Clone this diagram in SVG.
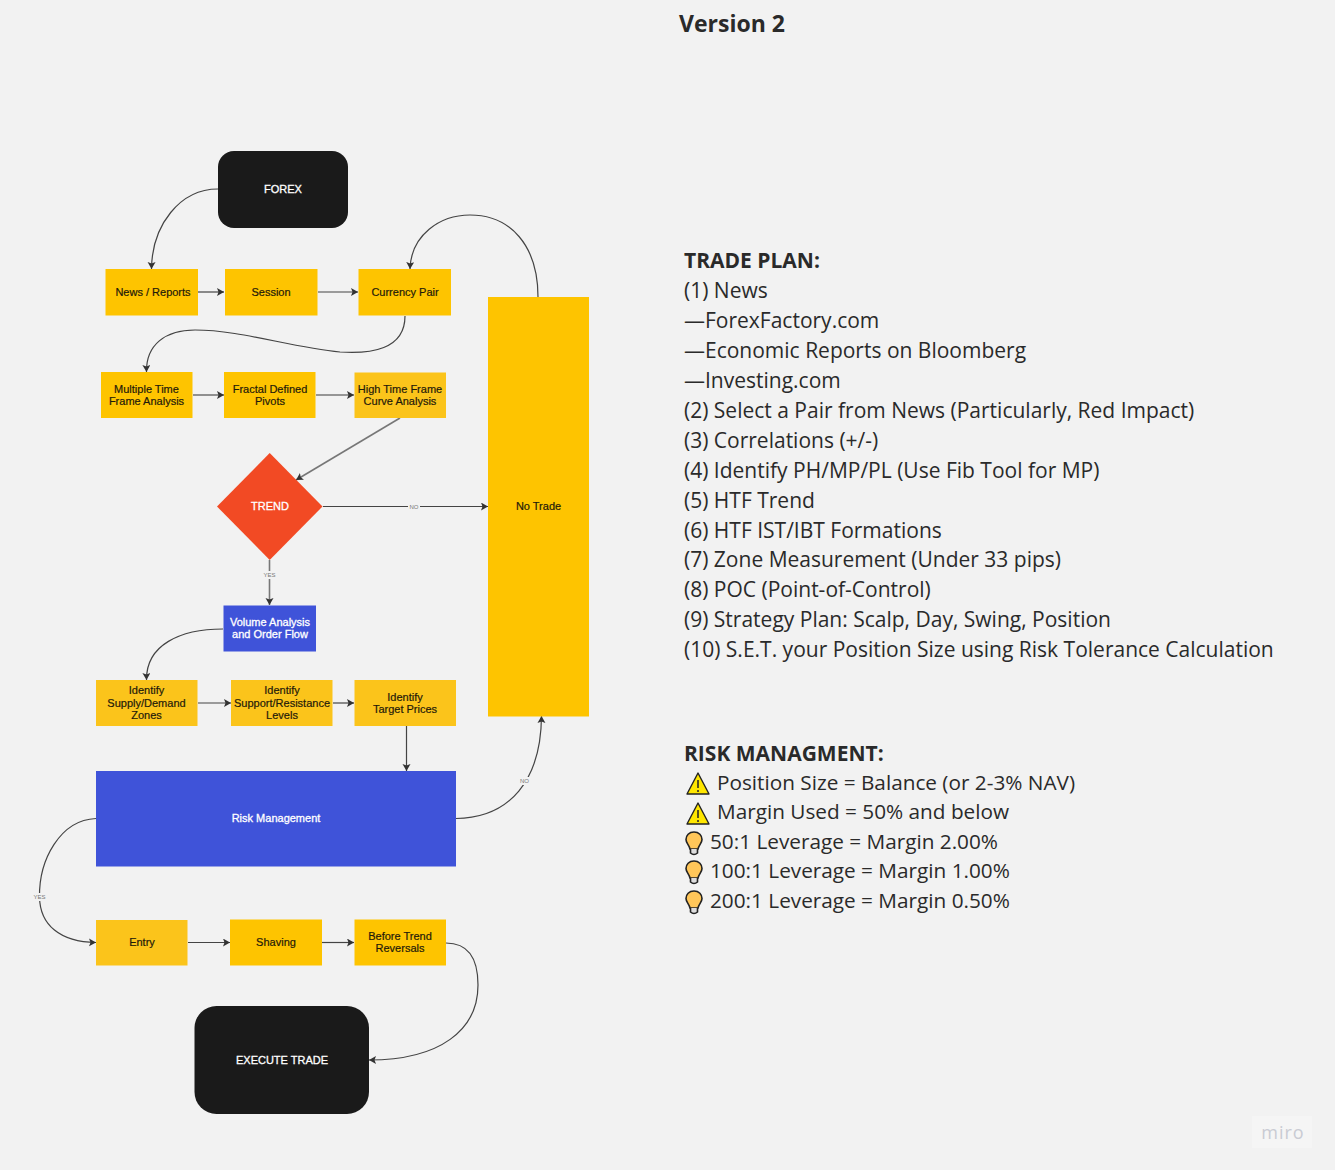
<svg xmlns="http://www.w3.org/2000/svg" width="1335" height="1170" viewBox="0 0 1335 1170">
<style>
.n{font:11px "Liberation Sans",Arial,sans-serif;fill:#1f1a0a;stroke:#1f1a0a;stroke-width:.2;text-anchor:middle}
.w{fill:#fff;stroke:#fff;stroke-width:.3}
.y{fill:#fec400}
.c{fill:none;stroke:#444;stroke-width:1.2;marker-end:url(#a)}
.g{fill:none;stroke:#777;stroke-width:1.6;marker-end:url(#a)}
.l{font:6px "Liberation Sans",Arial,sans-serif;fill:#777;text-anchor:middle}
.t{font:21px "Open Sans",sans-serif;fill:#2a2a2a}
.r{font-size:20.75px}
.b{font-weight:bold}
.bulb{fill:#ffc659;stroke:#222;stroke-width:1.6}
</style>
<defs>
<marker id="a" markerUnits="userSpaceOnUse" markerWidth="9" markerHeight="9" refX="7" refY="4" orient="auto"><path d="M0 0L7 4L0 8L1.500 4Z" fill="#333"/></marker>
<g id="warn"><path d="M12 1L23 22H1Z" fill="#ffe600" stroke="#222" stroke-width="1.400" stroke-linejoin="round"/><path d="M12 8V16M12 18V20" stroke="#222" stroke-width="1.500"/></g>
<g id="bulb"><path class="bulb" d="M9 1C4 1 1 4.500 1 8.500C1 12 4 13.500 5 18H13C14 13.500 17 12 17 8.500C17 4.500 14 1 9 1Z"/><path d="M5.500 18V22Q9 25 12.500 22V18" fill="#ddd" stroke="#222" stroke-width="1.600"/></g>
</defs>
<rect width="1335" height="1170" fill="#f2f2f2"/>
<g id="connectors">
<path class="c" d="M218 189C180 189 152 225 151.500 269"/>
<path class="c" d="M198 292H224"/>
<path class="c" d="M318 292H358"/>
<path class="c" d="M538 297C538 245 510 215 470 215C440 215 411 235 410 269"/>
<path class="c" d="M405 316C405 350 370 354 340 352C290 347 240 330 195 330C165 330 146 345 146.500 372"/>
<path class="g" d="M193 395H224"/>
<path class="g" d="M316 395H354"/>
<path class="g" d="M400 418L296 480"/>
<path class="c" d="M323 506.500H488"/>
<path class="g" d="M269.500 560V605"/>
<path class="c" d="M223 629C180 629 146 645 146.500 680"/>
<path class="c" d="M198 703H231"/>
<path class="c" d="M333 703H354"/>
<path class="c" d="M406.500 726V771"/>
<path class="c" d="M456 818.500C510 818 541 780 541.500 716"/>
<path class="c" d="M96 818.500C60 820 39 860 39.500 897C40 925 60 942 96 942.500"/>
<path class="c" d="M188 942.500H230"/>
<path class="c" d="M322 942.500H354"/>
<path class="c" d="M446 943C470 943 478 960 478 985C478 1030 440 1060 369 1060"/>
<rect x="408" y="503" width="12" height="8" fill="#f2f2f2"/><text class="l" x="414" y="509">NO</text>
<rect x="263" y="571" width="13" height="8" fill="#f2f2f2"/><text class="l" x="269.500" y="577">YES</text>
<rect x="518" y="777" width="13" height="8" fill="#f2f2f2"/><text class="l" x="524.500" y="783">NO</text>
<rect x="33" y="893" width="13" height="8" fill="#f2f2f2"/><text class="l" x="39.500" y="899">YES</text>
</g>
<g id="forex"><rect x="218" y="151" width="130" height="77" rx="16" fill="#1a1a1a"/><text class="n w" x="283" y="192.500">FOREX</text></g>
<g id="news"><rect class="y" x="105.500" y="269" width="92.500" height="46.500"/><text class="n" x="153" y="296">News / Reports</text></g>
<g id="session"><rect class="y" x="225" y="269" width="92.500" height="46.500"/><text class="n" x="271" y="296">Session</text></g>
<g id="pair"><rect class="y" x="358.500" y="269" width="92.500" height="46.500"/><text class="n" x="405" y="296">Currency Pair</text></g>
<g id="mtf"><rect class="y" x="101" y="372" width="91.500" height="46"/><text class="n" x="146.500" y="393">Multiple Time</text><text class="n" x="146.500" y="405">Frame Analysis</text></g>
<g id="fractal"><rect class="y" x="224" y="372" width="91.500" height="46"/><text class="n" x="270" y="393">Fractal Defined</text><text class="n" x="270" y="405">Pivots</text></g>
<g id="htf"><rect x="354.500" y="372.500" width="91.500" height="45.500" fill="#fbc41b"/><text class="n" x="400" y="393">High Time Frame</text><text class="n" x="400" y="405">Curve Analysis</text></g>
<g id="trend"><path d="M269.700 453L322.500 506.500L269.700 560L217 506.500Z" fill="#f24a24"/><text class="n w" x="270" y="510">TREND</text></g>
<g id="volume"><rect x="223.500" y="605.500" width="92.500" height="46" fill="#3f53d9"/><text class="n w" x="270" y="626">Volume Analysis</text><text class="n w" x="270" y="638">and Order Flow</text></g>
<g id="supply"><rect x="96" y="680" width="101.500" height="46" fill="#fbc41b"/><text class="n" x="146.500" y="694">Identify</text><text class="n" x="146.500" y="707">Supply/Demand</text><text class="n" x="146.500" y="719">Zones</text></g>
<g id="support"><rect x="231" y="680" width="101.500" height="46" fill="#fbc41b"/><text class="n" x="282" y="694">Identify</text><text class="n" x="282" y="707">Support/Resistance</text><text class="n" x="282" y="719">Levels</text></g>
<g id="target"><rect x="354.500" y="680" width="101.500" height="46" fill="#fbc41b"/><text class="n" x="405" y="701">Identify</text><text class="n" x="405" y="713">Target Prices</text></g>
<g id="notrade"><rect class="y" x="488" y="297" width="101" height="419.500"/><text class="n" x="538.500" y="510">No Trade</text></g>
<g id="risk"><rect x="96" y="771" width="360" height="95.500" fill="#3f53d9"/><text class="n w" x="276" y="822">Risk Management</text></g>
<g id="entry"><rect x="96" y="920" width="91.500" height="45.500" fill="#fbc41b"/><text class="n" x="142" y="946">Entry</text></g>
<g id="shaving"><rect class="y" x="230" y="919.500" width="92" height="46"/><text class="n" x="276" y="946">Shaving</text></g>
<g id="before"><rect class="y" x="354.500" y="919.500" width="91.500" height="46"/><text class="n" x="400" y="940">Before Trend</text><text class="n" x="400" y="952">Reversals</text></g>
<g id="execute"><rect x="194.500" y="1006" width="174.500" height="108" rx="22" fill="#1a1a1a"/><text class="n w" x="282" y="1064">EXECUTE TRADE</text></g>
<g id="title"><text class="t b" x="679" y="32" style="font-size:23px">Version 2</text></g>
<g id="plan">
<text class="t b" x="684" y="268">TRADE PLAN:</text>
<text class="t" x="684" y="298">(1) News</text>
<text class="t" x="684" y="328">—ForexFactory.com</text>
<text class="t" x="684" y="358">—Economic Reports on Bloomberg</text>
<text class="t" x="684" y="388">—Investing.com</text>
<text class="t" x="684" y="418">(2) Select a Pair from News (Particularly, Red Impact)</text>
<text class="t" x="684" y="448">(3) Correlations (+/-)</text>
<text class="t" x="684" y="478">(4) Identify PH/MP/PL (Use Fib Tool for MP)</text>
<text class="t" x="684" y="508">(5) HTF Trend</text>
<text class="t" x="684" y="538">(6) HTF IST/IBT Formations</text>
<text class="t" x="684" y="567">(7) Zone Measurement (Under 33 pips)</text>
<text class="t" x="684" y="597">(8) POC (Point-of-Control)</text>
<text class="t" x="684" y="627">(9) Strategy Plan: Scalp, Day, Swing, Position</text>
<text class="t" x="684" y="657">(10) S.E.T. your Position Size using Risk Tolerance Calculation</text>
</g>
<g id="riskplan">
<text class="t b" x="684" y="761">RISK MANAGMENT:</text>
<use href="#warn" x="686" y="772"/><text class="t r" x="717" y="790">Position Size = Balance (or 2-3% NAV)</text>
<use href="#warn" x="686" y="802"/><text class="t r" x="717" y="819">Margin Used = 50% and below</text>
<use href="#bulb" x="685" y="831"/><text class="t r" x="710" y="849">50:1 Leverage = Margin 2.00%</text>
<use href="#bulb" x="685" y="860"/><text class="t r" x="710" y="878">100:1 Leverage = Margin 1.00%</text>
<use href="#bulb" x="685" y="890"/><text class="t r" x="710" y="908">200:1 Leverage = Margin 0.50%</text>
</g>
<g id="miro"><rect x="1252" y="1116" width="60" height="32" fill="#f5f5f5"/><text x="1283" y="1139" style="font:18px 'Open Sans',sans-serif;letter-spacing:1px;fill:#c9cbd3;text-anchor:middle">miro</text></g>
</svg>
